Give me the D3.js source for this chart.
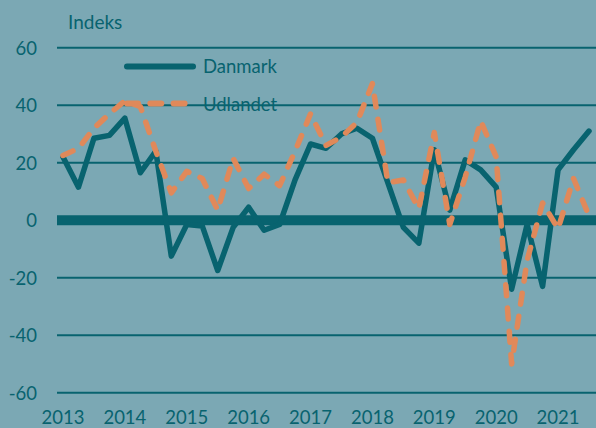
<html>

<head>
<style>
    body {
        margin: 0;
        background-color: #7ba8b4;
        font-family: Lato, "Open Sans", sans-serif;
    }

    svg {
        display: block;
    }
</style>
<script src="https://d3js.org/d3.v7.min.js"></script>
</head>

<body>
<svg id="Chart"></svg>
</body>

<script>

// quarters 2013K1 - 2021K3
let quarters = [
    "2013K1", "2013K2", "2013K3", "2013K4",
    "2014K1", "2014K2", "2014K3", "2014K4",
    "2015K1", "2015K2", "2015K3", "2015K4",
    "2016K1", "2016K2", "2016K3", "2016K4",
    "2017K1", "2017K2", "2017K3", "2017K4",
    "2018K1", "2018K2", "2018K3", "2018K4",
    "2019K1", "2019K2", "2019K3", "2019K4",
    "2020K1", "2020K2", "2020K3", "2020K4",
    "2021K1", "2021K2", "2021K3"
]

let danmark = [
    22, 11.5, 28.5, 29.5, 35.5, 16.5, 24, -12.5,
    -1.5, -2, -17.5, -2.5, 4.5, -3.5, -1.5, 14,
    26.5, 25, 30, 32, 28.5, 13, -2.5, -8,
    24.5, 3.5, 21, 17.5, 11.5, -24, -1.5, -23,
    17.5, 24.5, 31
]

let udlandet = [
    22.5, 25, 32, 37, 41.5, 39.5, 24, 9.5,
    17, 14.5, 3.5, 21.5, 11, 16, 12, 24,
    37, 26, 29, 34, 47.5, 13, 14, 4,
    30.5, -1.5, 15, 34.5, 22, -50, -14, 6,
    -3, 14.5, 1.5
]

let yearTicks = [2013, 2014, 2015, 2016, 2017, 2018, 2019, 2020, 2021]
let yTicks = [60, 40, 20, 0, -20, -40, -60]

let series = [
    {name: "Danmark", values: danmark, color: "#08636f", dash: null},
    {name: "Udlandet", values: udlandet, color: "#e0895a", dash: "11,12.3"}
]

function quarterToNumber(q) {
    return +q.slice(0, 4) + (+q.slice(5) - 1) / 4
}

function drawChart() {
    let width = 596
    let height = 428
    let svg = d3.select("#Chart")
        .attr("width", width)
        .attr("height", height)

    let teal = "#08636f"

    let x = d3.scaleLinear()
        .domain([2013, 2021.5])
        .range([63, 589])
    let y = d3.scaleLinear()
        .domain([-60, 60])
        .range([392.7, 47.7])

    // axis title
    svg.append("text")
        .attr("x", 68)
        .attr("y", 29)
        .attr("fill", teal)
        .style("font-size", "19px")
        .text("Indeks")

    // legend texts
    series.forEach((s, i) => {
        svg.append("text")
            .attr("x", 203)
            .attr("y", 73 + i * 37.5)
            .attr("fill", teal)
            .style("font-size", "18.5px")
            .text(s.name)
    })

    // horizontal grid
    svg.append("g").selectAll("line").data(yTicks)
        .enter().append("line")
        .attr("x1", 57)
        .attr("x2", width)
        .attr("y1", d => y(d))
        .attr("y2", d => y(d))
        .attr("stroke", teal)
        .attr("stroke-width", d => d == 0 ? 10 : 2)

    // y tick labels
    svg.append("g").selectAll("text").data(yTicks)
        .enter().append("text")
        .attr("x", 37)
        .attr("y", d => y(d))
        .attr("text-anchor", "end")
        .attr("dominant-baseline", "central")
        .attr("fill", teal)
        .style("font-size", "18.5px")
        .text(d => d)

    // x tick labels
    svg.append("g").selectAll("text").data(yearTicks)
        .enter().append("text")
        .attr("x", d => x(d))
        .attr("y", 424)
        .attr("text-anchor", "middle")
        .attr("fill", teal)
        .style("font-size", "18.5px")
        .text(d => d)

    let line = d3.line()
        .x((d, i) => x(quarterToNumber(quarters[i])))
        .y(d => y(d))

    series.forEach((s, i) => {
        svg.append("path")
            .datum(s.values)
            .attr("d", line)
            .attr("fill", "none")
            .attr("stroke", s.color)
            .attr("stroke-width", 5.5)
            .attr("stroke-linejoin", "round")
            .attr("stroke-linecap", "round")
            .attr("stroke-dasharray", s.dash)

        // legend line
        svg.append("line")
            .attr("x1", 127)
            .attr("x2", 193)
            .attr("y1", 66.5 + i * 37)
            .attr("y2", 66.5 + i * 37)
            .attr("stroke", s.color)
            .attr("stroke-width", 6)
            .attr("stroke-linecap", "round")
            .attr("stroke-dasharray", s.dash)
    })
}

drawChart()

</script>

</html>
